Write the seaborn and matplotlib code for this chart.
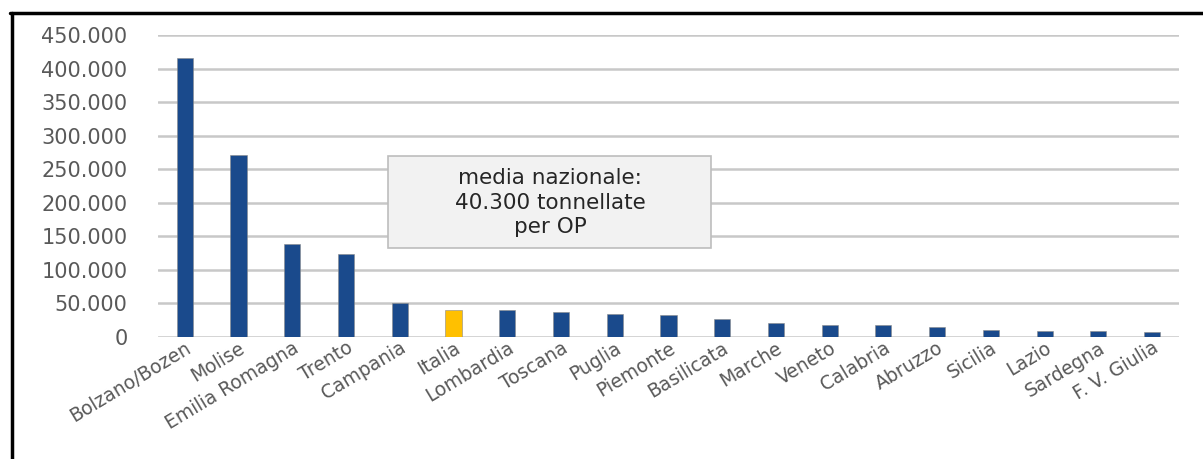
"""Tonnellate medie per OP, per regione (bar chart)."""

import numpy as np
import pandas as pd
import matplotlib
matplotlib.use("Agg")
import matplotlib.pyplot as plt
import matplotlib.ticker as mticker
from matplotlib.lines import Line2D
from matplotlib.patches import Rectangle
import seaborn as sns

REGIONI = ["Bolzano/Bozen", "Molise", "Emilia Romagna", "Trento", "Campania",
           "Italia", "Lombardia", "Toscana", "Puglia", "Piemonte", "Basilicata",
           "Marche", "Veneto", "Calabria", "Abruzzo", "Sicilia", "Lazio",
           "Sardegna", "F. V. Giulia"]
TONNELLATE = [415500, 271000, 138000, 123000, 51000, 40300, 40000, 36800,
              35000, 33300, 27400, 21400, 18500, 18500, 15500, 11000, 9500,
              9500, 8000]
Y_TICKS = [0, 50000, 100000, 150000, 200000, 250000, 300000, 350000,
           400000, 450000]
NOTE = "media nazionale:\n40.300 tonnellate\nper OP"

BLUE = "#1A4A8C"
GOLD = "#FFC000"
GREY_TXT = "#595959"
GRID = "#C8C8C8"

df = pd.DataFrame({"regione": REGIONI, "t": TONNELLATE})
df["tipo"] = np.where(df["regione"] == "Italia", "nazionale", "regione")

sns.set_theme(style="white")
plt.rcParams["font.family"] = ["DejaVu Sans"]

fig = plt.figure(figsize=(12.03, 4.59), dpi=100)
ax = fig.add_axes([0.1313, 0.2658, 0.8487, 0.6579])

sns.barplot(data=df, x="regione", y="t", hue="tipo",
            palette={"regione": BLUE, "nazionale": GOLD}, saturation=1,
            width=0.3, dodge=False, legend=False, ax=ax,
            edgecolor="#8A8A8A", linewidth=0.4, zorder=3)

ax.set_ylim(0, 450000)
ax.set_xlim(-0.5, len(REGIONI) - 0.5)
ax.set_yticks(Y_TICKS)
ax.yaxis.set_major_formatter(
    mticker.FuncFormatter(lambda v, _: f"{int(v):,}".replace(",", ".")))
ax.yaxis.grid(True, color=GRID, linewidth=1.8, zorder=0)
ax.set_axisbelow(True)
for s in ax.spines.values():
    s.set_visible(False)
ax.tick_params(axis="both", length=0, colors=GREY_TXT)
ax.tick_params(axis="y", pad=22, labelsize=15)
ax.tick_params(axis="x", pad=1)
ax.set_xlabel("")
ax.set_ylabel("")
plt.setp(ax.get_xticklabels(), rotation=31, ha="right",
         rotation_mode="anchor", fontsize=13.5, color=GREY_TXT)

# note box
ax.add_patch(Rectangle((0.2253, 0.295), 0.3163, 0.304, transform=ax.transAxes,
                       facecolor="#F2F2F2", edgecolor="#BDBDBD",
                       linewidth=1.2, zorder=5))
ax.text(0.384, 0.445, NOTE, transform=ax.transAxes, ha="center", va="center",
        fontsize=15.5, color="#262626", linespacing=1.3, zorder=6)

# black frame on top and left, as in the source image
fig.add_artist(Line2D([10 / 1203, 1.0], [1 - 13 / 459, 1 - 13 / 459],
                      transform=fig.transFigure, color="black", linewidth=2.5))
fig.add_artist(Line2D([11.5 / 1203, 11.5 / 1203], [0, 1 - 13 / 459],
                      transform=fig.transFigure, color="black", linewidth=2.5))

fig.savefig("out.png", dpi=100, facecolor="white")
